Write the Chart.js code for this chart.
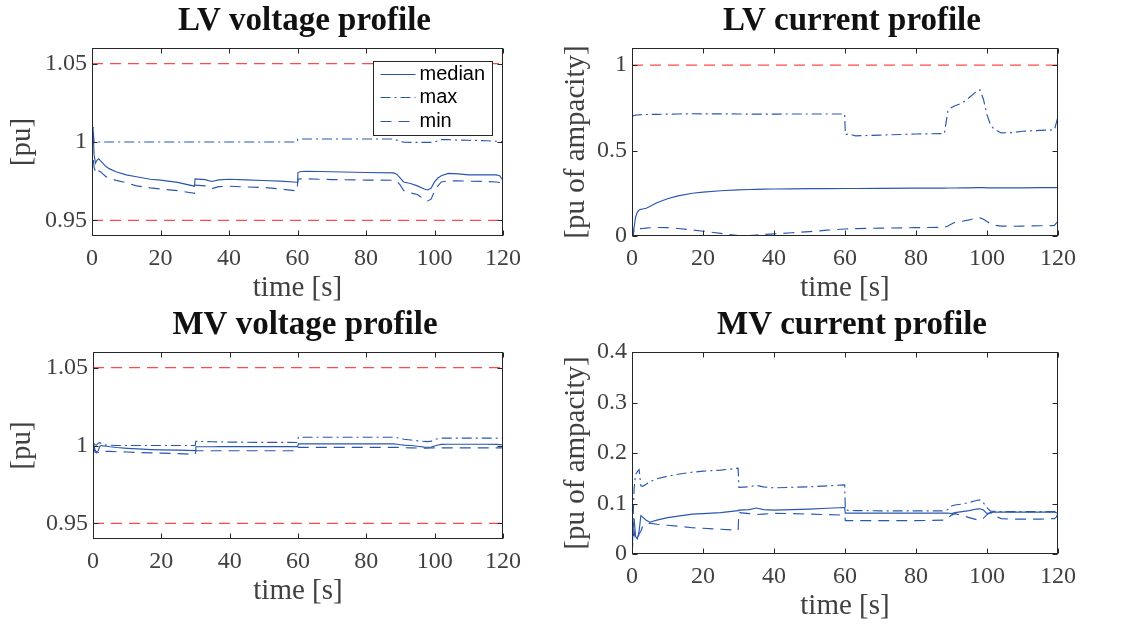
<!DOCTYPE html>
<html>
<head>
<meta charset="utf-8">
<script src="https://cdn.jsdelivr.net/npm/chart.js@4.4.0/dist/chart.umd.min.js"></script>
<style>
  html, body { margin: 0; padding: 0; background: #fff; }
  body { width: 1122px; height: 628px; position: relative; overflow: hidden; }
  canvas { position: absolute; }
</style>
</head>
<body>
<canvas id="lvVoltage" width="560" height="304" style="left:0;top:0"></canvas>
<canvas id="lvCurrent" width="561" height="304" style="left:561px;top:0"></canvas>
<canvas id="mvVoltage" width="560" height="324" style="left:0;top:304px"></canvas>
<canvas id="mvCurrent" width="561" height="324" style="left:561px;top:304px"></canvas>
<script>
// Simulation time [s]
const timeS = [0, 0.3, 0.6, 1, 1.5, 2, 2.5, 3, 4, 5,
  7, 10, 13, 17, 20, 25, 29.9, 30.1, 33, 35,
  37, 40, 45, 50, 55, 59.9, 60.1, 61, 63, 70,
  80, 88, 89, 90, 91, 93, 95, 97, 98, 99,
  100, 101, 102, 104, 107, 110, 115, 118, 119, 119.5, 120];

// LV bus voltages [pu]
const lvVoltMedian = [1.000, 1.0095, 0.992, 0.9865, 0.9885, 0.9893, 0.988, 0.9868, 0.9845, 0.983,
  0.981, 0.979, 0.9778, 0.9762, 0.9757, 0.9742, 0.9718, 0.9765, 0.976, 0.9748,
  0.9758, 0.9762, 0.9758, 0.9754, 0.975, 0.9743, 0.9805, 0.9812, 0.9813, 0.981,
  0.9805, 0.9803, 0.9795, 0.977, 0.9745, 0.9735, 0.972, 0.970, 0.9694, 0.9705,
  0.9745, 0.977, 0.9785, 0.980, 0.9797, 0.979, 0.979, 0.979, 0.9785, 0.977, 0.9755];
const lvVoltMax = [1.000, 1.0095, 1.000, 1.000, 1.000, 1.000, 1.000, 1.000, 1.000, 1.000,
  1.000, 1.000, 1.000, 1.000, 1.000, 1.000, 1.000, 1.000, 1.000, 1.000,
  1.000, 1.000, 1.000, 1.000, 1.000, 1.000, 1.0018, 1.0019, 1.0019, 1.0019,
  1.0019, 1.0019, 1.0012, 1.0003, 0.9999, 0.9998, 0.9998, 0.9998, 0.9998, 0.9998,
  0.9999, 1.0008, 1.0015, 1.0015, 1.0012, 1.0011, 1.0008, 1.0005, 1.0003, 1.0002, 1.0002];
const lvVoltMin = [1.000, 0.990, 0.984, 0.981, 0.9795, 0.9815, 0.981, 0.980, 0.978, 0.977,
  0.9755, 0.974, 0.972, 0.9707, 0.970, 0.969, 0.9672, 0.9725, 0.972, 0.9702,
  0.9715, 0.9718, 0.9713, 0.971, 0.970, 0.9688, 0.9762, 0.9765, 0.9765, 0.976,
  0.9757, 0.9756, 0.975, 0.9725, 0.969, 0.9675, 0.9665, 0.9635, 0.9624, 0.9635,
  0.9685, 0.972, 0.9745, 0.9752, 0.9752, 0.975, 0.9748, 0.9745, 0.9742, 0.973, 0.9705];

// LV line currents [pu of ampacity]
const lvCurMedian = [0.10, 0.0, 0.05, 0.11, 0.14, 0.152, 0.156, 0.158, 0.162, 0.172,
  0.195, 0.218, 0.235, 0.25, 0.257, 0.265, 0.27, 0.27, 0.272, 0.273,
  0.274, 0.275, 0.276, 0.277, 0.277, 0.278, 0.278, 0.278, 0.278, 0.279,
  0.28, 0.28, 0.281, 0.281, 0.281, 0.282, 0.282, 0.283, 0.283, 0.283,
  0.282, 0.282, 0.282, 0.282, 0.282, 0.282, 0.283, 0.283, 0.283, 0.283, 0.284];
const lvCurMax = [0.70, 0.703, 0.705, 0.707, 0.708, 0.709, 0.71, 0.71, 0.711, 0.711,
  0.712, 0.713, 0.714, 0.715, 0.715, 0.715, 0.714, 0.714, 0.713, 0.713,
  0.713, 0.713, 0.714, 0.714, 0.714, 0.714, 0.593, 0.597, 0.586, 0.59,
  0.597, 0.599, 0.735, 0.752, 0.762, 0.778, 0.81, 0.845, 0.855, 0.80,
  0.71, 0.65, 0.625, 0.603, 0.605, 0.613, 0.618, 0.62, 0.622, 0.66, 0.70];
const lvCurMin = [0.03, 0.0, 0.04, 0.042, 0.042, 0.043, 0.043, 0.044, 0.046, 0.048,
  0.05, 0.049, 0.044, 0.035, 0.028, 0.015, 0.003, 0.002, 0.003, 0.006,
  0.009, 0.012, 0.019, 0.026, 0.034, 0.041, 0.041, 0.042, 0.043, 0.046,
  0.049, 0.051, 0.058, 0.07, 0.08, 0.086, 0.094, 0.105, 0.106, 0.098,
  0.085, 0.07, 0.063, 0.058, 0.057, 0.058, 0.06, 0.061, 0.062, 0.075, 0.085];

// MV bus voltages [pu]
const mvVoltMedian = [1.0005, 1.000, 0.997, 0.9958, 0.9965, 0.9995, 1.000, 0.9998, 0.9995, 0.9992,
  0.9987, 0.9982, 0.9978, 0.9974, 0.9972, 0.997, 0.9967, 0.9992, 0.9992, 0.9992,
  0.9993, 0.9993, 0.9993, 0.9993, 0.9993, 0.9993, 1.001, 1.001, 1.001, 1.001,
  1.001, 1.001, 1.0008, 1.0005, 1.0002, 1.000, 0.9995, 0.999, 0.9989, 0.999,
  0.9997, 1.0003, 1.0007, 1.0008, 1.0008, 1.0008, 1.0008, 1.0007, 1.0006, 1.0005, 1.0003];
const mvVoltMax = [1.0008, 1.0012, 1.0005, 1.0003, 1.0015, 1.0018, 1.0012, 1.0005, 1.0003, 1.0002,
  1.000, 1.000, 1.000, 1.000, 1.000, 1.000, 1.000, 1.0027, 1.0025, 1.0024,
  1.0023, 1.0022, 1.0021, 1.002, 1.002, 1.0019, 1.0053, 1.0053, 1.0053, 1.0053,
  1.0053, 1.0053, 1.005, 1.0045, 1.004, 1.0035, 1.003, 1.0026, 1.0025, 1.0028,
  1.0038, 1.0044, 1.0047, 1.0047, 1.0047, 1.0047, 1.0047, 1.0047, 1.0046, 1.0045, 1.0044];
const mvVoltMin = [1.000, 0.998, 0.9958, 0.9953, 0.9955, 0.996, 0.9965, 0.9963, 0.9962, 0.9962,
  0.996, 0.9958, 0.9955, 0.9953, 0.9951, 0.9948, 0.9943, 0.9966, 0.9966, 0.9966,
  0.9966, 0.9966, 0.9966, 0.9966, 0.9966, 0.9966, 0.9988, 0.9988, 0.9988, 0.9988,
  0.9988, 0.9988, 0.9988, 0.9987, 0.9986, 0.9985, 0.9984, 0.9983, 0.9983, 0.9984,
  0.9985, 0.9985, 0.9985, 0.9985, 0.9985, 0.9985, 0.9985, 0.9985, 0.9985, 0.9985, 0.9985];

// MV line currents [pu of ampacity]
const mvCurMedian = [0.0, 0.05, 0.07, 0.035, 0.03, 0.045, 0.076, 0.073, 0.067, 0.063,
  0.067, 0.072, 0.075, 0.079, 0.080, 0.082, 0.086, 0.087, 0.088, 0.091,
  0.088, 0.087, 0.088, 0.089, 0.0905, 0.092, 0.081, 0.081, 0.081, 0.081,
  0.081, 0.081, 0.0812, 0.080, 0.082, 0.084, 0.086, 0.089, 0.0895, 0.087,
  0.080, 0.082, 0.0828, 0.083, 0.083, 0.083, 0.083, 0.083, 0.083, 0.082, 0.0815];
const mvCurMax = [0.0, 0.07, 0.13, 0.157, 0.163, 0.167, 0.135, 0.134, 0.138, 0.143,
  0.149, 0.154, 0.158, 0.162, 0.164, 0.166, 0.170, 0.132, 0.133, 0.136,
  0.133, 0.131, 0.132, 0.133, 0.135, 0.137, 0.087, 0.0865, 0.086, 0.0855,
  0.0855, 0.0855, 0.088, 0.095, 0.097, 0.099, 0.102, 0.106, 0.107, 0.101,
  0.092, 0.085, 0.0845, 0.084, 0.084, 0.084, 0.084, 0.084, 0.084, 0.087, 0.092];
const mvCurMin = [0.0, 0.03, 0.045, 0.03, 0.028, 0.04, 0.045, 0.055, 0.059, 0.061,
  0.059, 0.057, 0.055, 0.052, 0.051, 0.049, 0.047, 0.082, 0.080, 0.078,
  0.079, 0.0805, 0.080, 0.079, 0.078, 0.077, 0.066, 0.066, 0.066, 0.066,
  0.066, 0.067, 0.071, 0.077, 0.080, 0.076, 0.072, 0.068, 0.067, 0.071,
  0.078, 0.082, 0.076, 0.070, 0.069, 0.069, 0.069, 0.070, 0.070, 0.073, 0.080];

// Operating limits
const voltageLimits = [0.95, 1.05];
const currentLimits = [1];

// Axis ticks
const timeTicks = [0, 20, 40, 60, 80, 100, 120];
const voltageTicks = [0.95, 1, 1.05];
const lvCurrentTicks = [0, 0.5, 1];
const mvCurrentTicks = [0, 0.1, 0.2, 0.3, 0.4];

const seriesNames = ['median', 'max', 'min'];

const BLUE = '#2a56b0';
const RED = '#ff4a4a';
const AXIS = '#262626';
const LABEL = '#404040';
const SERIF = '"Liberation Serif", "Times New Roman", serif';
const SANS = '"Liberation Sans", Arial, sans-serif';
const DASHES = [[], [10, 4, 2, 4], [11, 7]];

// Box around the axes with inward ticks on all four sides
const axisBox = {
  id: 'axisBox',
  afterDatasetsDraw(chart) {
    const { ctx, chartArea: a, scales: { x, y } } = chart;
    const L = Math.round(a.left) + 0.5, R = Math.round(a.right) - 0.5;
    const T = Math.round(a.top) + 0.5, B = Math.round(a.bottom) - 0.5;
    const len = 5;
    ctx.save();
    ctx.strokeStyle = AXIS;
    ctx.lineWidth = 1;
    ctx.setLineDash([]);
    ctx.beginPath();
    x.ticks.forEach(t => {
      const px = Math.round(x.getPixelForValue(t.value)) + 0.5;
      ctx.moveTo(px, B); ctx.lineTo(px, B - len);
      ctx.moveTo(px, T); ctx.lineTo(px, T + len);
    });
    y.ticks.forEach(t => {
      const py = Math.round(y.getPixelForValue(t.value)) + 0.5;
      ctx.moveTo(L, py); ctx.lineTo(L + len, py);
      ctx.moveTo(R, py); ctx.lineTo(R - len, py);
    });
    ctx.stroke();
    ctx.strokeRect(L, T, R - L, B - T);
    ctx.restore();
  }
};

// Bold panel heading above the axes
const panelTitle = {
  id: 'panelTitle',
  afterDraw(chart, args, opts) {
    const { ctx, chartArea: a } = chart;
    ctx.save();
    ctx.font = 'bold 33px ' + SERIF;
    ctx.fillStyle = '#111';
    ctx.textAlign = 'center';
    ctx.textBaseline = 'middle';
    ctx.fillText(opts.text, (a.left + a.right) / 2 + 7, 21);
    ctx.restore();
  }
};

// Legend drawn inside the axes, upper right
const insideLegend = {
  id: 'insideLegend',
  afterDraw(chart, args, opts) {
    if (!opts.show) return;
    const { ctx } = chart;
    const bx = opts.x + 0.5, by = opts.y + 0.5, bw = opts.w, bh = opts.h;
    ctx.save();
    ctx.fillStyle = '#fff';
    ctx.fillRect(bx, by, bw, bh);
    ctx.strokeStyle = AXIS;
    ctx.lineWidth = 1;
    ctx.setLineDash([]);
    ctx.strokeRect(bx, by, bw, bh);
    ctx.font = '20px ' + SANS;
    ctx.textBaseline = 'middle';
    ctx.textAlign = 'left';
    const rows = chart.data.datasets.filter(d => seriesNames.includes(d.label));
    rows.forEach((d, i) => {
      const ry = Math.round(by + 12.5 + i * 23.4) + 0.5;
      ctx.strokeStyle = d.borderColor;
      ctx.lineWidth = d.borderWidth;
      ctx.setLineDash(d.borderDash);
      ctx.beginPath();
      ctx.moveTo(bx + 7, ry);
      ctx.lineTo(bx + 42, ry);
      ctx.stroke();
      ctx.fillStyle = '#000';
      ctx.fillText(d.label, bx + 46, ry);
    });
    ctx.restore();
  }
};

function points(values) {
  return timeS.map((t, i) => ({ x: t, y: values[i] }));
}

function makePanel(id, cfg) {
  const canvas = document.getElementById(id);
  const W = canvas.width, H = canvas.height;
  const xAxisH = 68;
  const series = [cfg.median, cfg.max, cfg.min].map((vals, i) => ({
    label: seriesNames[i],
    data: points(vals),
    borderColor: BLUE,
    borderWidth: 1.15,
    borderDash: DASHES[i],
    pointRadius: 0,
    fill: false,
    tension: 0
  }));
  const limits = cfg.limits.map(v => ({
    label: 'limit ' + v,
    data: [{ x: timeS[0], y: v }, { x: timeS[timeS.length - 1], y: v }],
    borderColor: RED,
    borderWidth: 1.4,
    borderDash: [11, 7],
    pointRadius: 0,
    fill: false
  }));
  return new Chart(canvas, {
    type: 'line',
    data: { datasets: series.concat(limits) },
    options: {
      responsive: false,
      animation: false,
      devicePixelRatio: 1,
      events: [],
      layout: {
        padding: { left: 0, top: 48, right: W - cfg.area.right, bottom: H - cfg.area.bottom - xAxisH }
      },
      plugins: {
        legend: { display: false },
        tooltip: { enabled: false },
        title: { display: false },
        panelTitle: { text: cfg.title },
        insideLegend: cfg.legend || { show: false }
      },
      scales: {
        x: {
          type: 'linear',
          min: 0,
          max: 120,
          afterBuildTicks: s => { s.ticks = timeTicks.map(v => ({ value: v })); },
          afterFit: s => { s.height = xAxisH; },
          grid: { display: false, drawTicks: false },
          border: { display: false },
          ticks: {
            padding: 8,
            color: LABEL,
            font: { family: SERIF, size: 24, lineHeight: 1.2 },
            maxRotation: 0,
            callback: v => String(v)
          },
          title: {
            display: true,
            text: 'time [s]',
            color: LABEL,
            font: { family: SERIF, size: 29, lineHeight: 1 },
            padding: { top: 0, bottom: 1 }
          }
        },
        y: {
          type: 'linear',
          min: cfg.yMin,
          max: cfg.yMax,
          afterBuildTicks: s => { s.ticks = cfg.yTicks.map(v => ({ value: v })); },
          afterFit: s => { s.width = cfg.area.left; },
          grid: { display: false, drawTicks: false },
          border: { display: false },
          ticks: {
            padding: 5,
            color: LABEL,
            font: { family: SERIF, size: 24, lineHeight: 1.2 },
            callback: v => String(v)
          },
          title: {
            display: true,
            text: cfg.yTitle,
            color: LABEL,
            font: { family: SERIF, size: 29, lineHeight: 1 },
            padding: { top: cfg.yTitlePad, bottom: 0 }
          }
        }
      }
    },
    plugins: [axisBox, panelTitle, insideLegend]
  });
}

makePanel('lvVoltage', {
  title: 'LV voltage profile', yTitle: '[pu]', yTitlePad: 8,
  median: lvVoltMedian, max: lvVoltMax, min: lvVoltMin, limits: voltageLimits,
  yMin: 0.94, yMax: 1.06, yTicks: voltageTicks,
  area: { left: 92, right: 503, bottom: 236 },
  legend: { show: true, x: 373, y: 61, w: 119, h: 74 }
});

makePanel('lvCurrent', {
  title: 'LV current profile', yTitle: '[pu of ampacity]', yTitlePad: 1,
  median: lvCurMedian, max: lvCurMax, min: lvCurMin, limits: currentLimits,
  yMin: 0, yMax: 1.1, yTicks: lvCurrentTicks,
  area: { left: 71, right: 497, bottom: 236 }
});

makePanel('mvVoltage', {
  title: 'MV voltage profile', yTitle: '[pu]', yTitlePad: 8,
  median: mvVoltMedian, max: mvVoltMax, min: mvVoltMin, limits: voltageLimits,
  yMin: 0.94, yMax: 1.06, yTicks: voltageTicks,
  area: { left: 93, right: 503, bottom: 235 }
});

makePanel('mvCurrent', {
  title: 'MV current profile', yTitle: '[pu of ampacity]', yTitlePad: 1,
  median: mvCurMedian, max: mvCurMax, min: mvCurMin, limits: [],
  yMin: 0, yMax: 0.4, yTicks: mvCurrentTicks,
  area: { left: 71, right: 497, bottom: 250 }
});
</script>
</body>
</html>
